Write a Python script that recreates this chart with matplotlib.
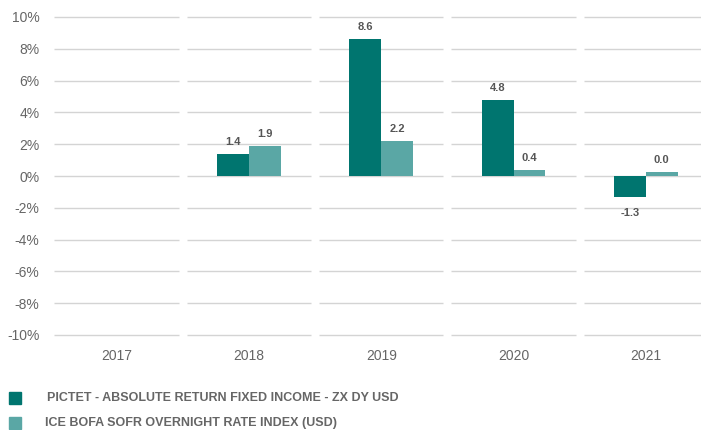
import numpy as np
import matplotlib.pyplot as plt

years = ["2017", "2018", "2019", "2020", "2021"]
fund_vals = [np.nan, 1.4, 8.6, 4.8, -1.3]
fund_labels = ["", "1.4", "8.6", "4.8", "-1.3"]
index_vals = [np.nan, 1.9, 2.2, 0.4, 0.25]
index_labels = ["", "1.9", "2.2", "0.4", "0.0"]
yticks = [-10, -8, -6, -4, -2, 0, 2, 4, 6, 8, 10]
series_names = ["PICTET - ABSOLUTE RETURN FIXED INCOME - ZX DY USD",
                "ICE BOFA SOFR OVERNIGHT RATE INDEX (USD)"]

dark = "#00756f"
light = "#5aa7a5"
grid_c = "#d4d4d4"
text_c = "#666666"
label_c = "#555555"

plt.rcParams['font.family'] = ['Liberation Sans Narrow', 'Liberation Sans', 'DejaVu Sans']

fig = plt.figure(figsize=(7.01, 4.30), dpi=100)
ax = fig.add_axes([50.5 / 701, 95 / 430, 661.5 / 701, 318 / 430])

x = np.arange(len(years))
w = 0.24

# segmented gridlines, one piece per category
for yv in yticks:
    for i in x:
        ax.plot([i - 0.47, i + 0.47], [yv, yv], color=grid_c, lw=1,
                zorder=0, clip_on=False, solid_capstyle="butt")

ax.bar(x - w / 2, fund_vals, w, color=dark, zorder=2)
ax.bar(x + w / 2, index_vals, w, color=light, zorder=2)

for i in x:
    for off, v, lab in [(-w / 2, fund_vals[i], fund_labels[i]),
                        (w / 2, index_vals[i], index_labels[i])]:
        if not lab:
            continue
        if v >= 0:
            ax.annotate(lab, (i + off, v), xytext=(0, 5), textcoords="offset points",
                        ha="center", va="bottom", fontsize=8, fontweight="bold",
                        color=label_c)
        else:
            ax.annotate(lab, (i + off, v), xytext=(0, -8), textcoords="offset points",
                        ha="center", va="top", fontsize=8, fontweight="bold",
                        color=label_c)

ax.set_xlim(-0.5, len(years) - 0.5)
ax.set_ylim(-10, 10)
ax.set_yticks(yticks)
ax.set_yticklabels([f"{t}%" for t in yticks], color=text_c, fontsize=10)
ax.set_xticks(x)
ax.set_xticklabels(years, color=text_c, fontsize=10)
ax.tick_params(axis="both", length=0)
ax.tick_params(axis="y", pad=8)
ax.tick_params(axis="x", pad=10)
for s in ax.spines.values():
    s.set_visible(False)

# legend drawn as squares with text
leg_y = [398, 423]
leg_tx = [47, 45]
for yy, tx, c, name in zip(leg_y, leg_tx, [dark, light], series_names):
    fig.patches.append(plt.Rectangle((9 / 701, (430 - yy - 6) / 430), 12 / 701, 12 / 430,
                                     transform=fig.transFigure, color=c, figure=fig))
    fig.text(tx / 701, (430 - yy) / 430, name, fontsize=9, fontweight="bold",
             color=text_c, va="center", ha="left")

fig.savefig("out.png", dpi=100)
